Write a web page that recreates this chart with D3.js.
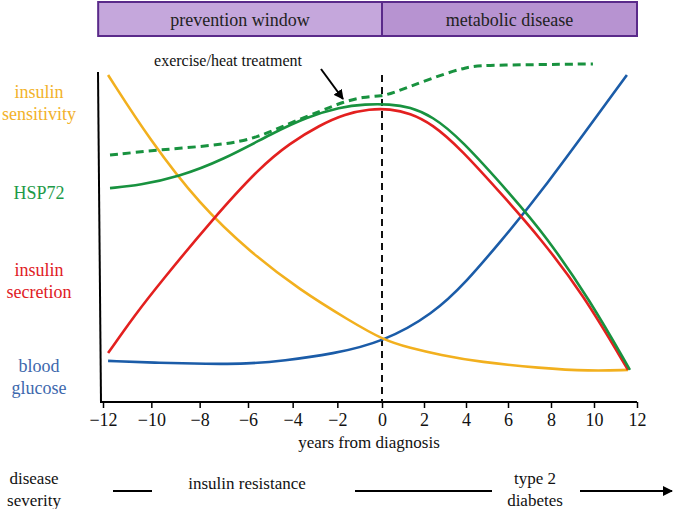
<!DOCTYPE html>
<html><head><meta charset="utf-8">
<script src="https://cdn.jsdelivr.net/npm/d3@7"></script>
<style>body{margin:0;background:#fff}svg{display:block}svg text{font-family:"Liberation Serif","Times New Roman",Times,serif !important}</style>
</head><body><svg id="c" width="676" height="509" font-family="Liberation Serif, Times New Roman, serif"></svg>
<script>
// x-axis ticks (years from diagnosis)
const tickYears = [-12,-10,-8,-6,-4,-2,0,2,4,6,8,10,12];
// curve data: [year, relative level]
const insulinSensitivity = [[-11.79,99],[-10.06,77.3],[-7.99,55.7],[-5.91,40],[-3.67,27.3],[-1.43,17],[0.05,10.7],[1.33,8],[2.76,5.7],[4.67,3.3],[7.49,1.3],[9.81,0.3],[11.58,0.7]];
const insulinSecretion = [[-11.79,6.3],[-10.68,19],[-9.64,29.7],[-7.49,50.7],[-5.46,68.3],[-4.12,76.3],[-2.78,82.3],[-1.66,86],[-0.54,87.7],[0.38,87.7],[1.33,86.3],[2.38,82.7],[3.71,74.7],[5.95,57.3],[7.49,44.7],[9.49,26],[11.58,0.7]];
const hsp72 = [[-11.71,61.3],[-10.47,62.3],[-8.9,65],[-7.03,70.7],[-4.88,79.7],[-3.36,85],[-1.88,88.3],[-0.76,89.3],[0.38,89.3],[1.33,88.3],[2.38,85.3],[3.71,78],[6.23,58.3],[7.72,45.7],[9.81,24],[11.67,0.7]];
const hsp72Treatment = [[-11.71,72.3],[-9.77,74],[-7.03,75.7],[-5.6,78],[-4.12,83],[-2.64,87.3],[-1.75,90],[-0.85,91.7],[0,92],[0.52,93],[2.14,97.3],[4.05,102],[5.29,102.3],[9.95,102.7]];
const bloodGlucose = [[-11.79,3.7],[-9.64,3],[-7.7,2.7],[-6.04,2.7],[-4.43,3.7],[-2.2,6],[0.05,10],[2.43,19.3],[4.05,30.3],[5.62,43.3],[7.49,59.3],[11.53,99]];
const phases = ["prevention window","metabolic disease"];
const phaseBounds = [[-12.2,0],[0,12]];

const FONT = "Liberation Serif, Times New Roman, serif";
const svg = d3.select("#c");
const x = d3.scaleLinear().domain([-12,-6,0,6,12]).range([103,248,382,508,637]);
const y = d3.scaleLinear().domain([0,100]).range([372,72]);
const line = d3.line().x(d=>x(d[0])).y(d=>y(d[1])).curve(d3.curveBasis);
function txt(xp,yp,s,size,fill,anchor){
  return svg.append("text").attr("x",xp).attr("y",yp).attr("text-anchor",anchor||"middle")
    .attr("font-size",size).attr("font-family",FONT).attr("fill",fill||"#111").text(s);
}

// banner
const bannerFill = ["#c5a7dc","#b793d1"];
phases.forEach((p,i)=>{
  const x0 = x(phaseBounds[i][0]) , x1 = x(phaseBounds[i][1]);
  svg.append("rect").attr("x",x0).attr("y",2).attr("width",x1-x0).attr("height",34)
    .attr("fill",bannerFill[i]).attr("stroke","#5a2a8a").attr("stroke-width",2);
  txt((x0+x1)/2,26,p,18,"#222");
});

// axes
svg.append("line").attr("x1",98).attr("y1",72).attr("x2",101).attr("y2",403)
  .attr("stroke","#000").attr("stroke-width",2);
const ax = svg.append("g").attr("transform","translate(0,402)")
  .call(d3.axisBottom(x).tickValues(tickYears).tickSizeOuter(0).tickSize(6).tickPadding(5));
ax.attr("font-family",FONT);
ax.select(".domain").attr("stroke","#000").attr("stroke-width",2).attr("d","M100,0H637");
ax.selectAll(".tick line").attr("stroke","#000").attr("stroke-width",1.5);
ax.selectAll(".tick text").attr("font-size",18).attr("fill","#111").attr("font-family",FONT);
txt(369,448,"years from diagnosis",17);

// diagnosis line
svg.append("line").attr("x1",x(0)).attr("x2",x(0)).attr("y1",75).attr("y2",402)
  .attr("stroke","#111").attr("stroke-width",2).attr("stroke-dasharray","7,5");

// curves
const series = [
  {d:bloodGlucose,c:"#1b5ca8"},
  {d:insulinSensitivity,c:"#f2b01e"},
  {d:insulinSecretion,c:"#e3201f"},
  {d:hsp72,c:"#18923f"},
  {d:hsp72Treatment,c:"#18923f",dash:"8,5"}
];
series.forEach(s=>{
  svg.append("path").datum(s.d).attr("d",line).attr("fill","none")
    .attr("stroke",s.c).attr("stroke-width",s.dash?3:2.6)
    .attr("stroke-dasharray",s.dash||null);
});

// annotation
svg.append("defs").append("marker").attr("id","ah").attr("viewBox","0 0 10 10")
  .attr("refX",9).attr("refY",5).attr("markerWidth",5).attr("markerHeight",5).attr("orient","auto")
  .append("path").attr("d","M0,0L10,5L0,10z").attr("fill","#000");
txt(228,66,"exercise/heat treatment",16);
svg.append("line").attr("x1",321).attr("y1",69).attr("x2",343).attr("y2",99)
  .attr("stroke","#000").attr("stroke-width",2).attr("marker-end","url(#ah)");

// left labels
const labels = [
  {t:["insulin","sensitivity"],c:"#f2b22a",y:92},
  {t:["HSP72"],c:"#1e9a48",y:193},
  {t:["insulin","secretion"],c:"#e0201f",y:270},
  {t:["blood","glucose"],c:"#3d68ad",y:366}
];
labels.forEach(l=>{
  l.t.forEach((s,i)=>txt(39,l.y+6+i*22,s,18,l.c));
});

// bottom severity row
txt(34,484,"disease",17);
txt(34,506,"severity",17);
txt(247,489,"insulin resistance",17);
txt(535,484,"type 2",17);
txt(535,506,"diabetes",17);
[[113,152],[355,492]].forEach(s=>{
  svg.append("line").attr("x1",s[0]).attr("x2",s[1]).attr("y1",491).attr("y2",491).attr("stroke","#000").attr("stroke-width",2);
});
svg.append("line").attr("x1",580).attr("x2",672).attr("y1",491).attr("y2",491).attr("stroke","#000").attr("stroke-width",2).attr("marker-end","url(#ah)");
</script></body></html>
